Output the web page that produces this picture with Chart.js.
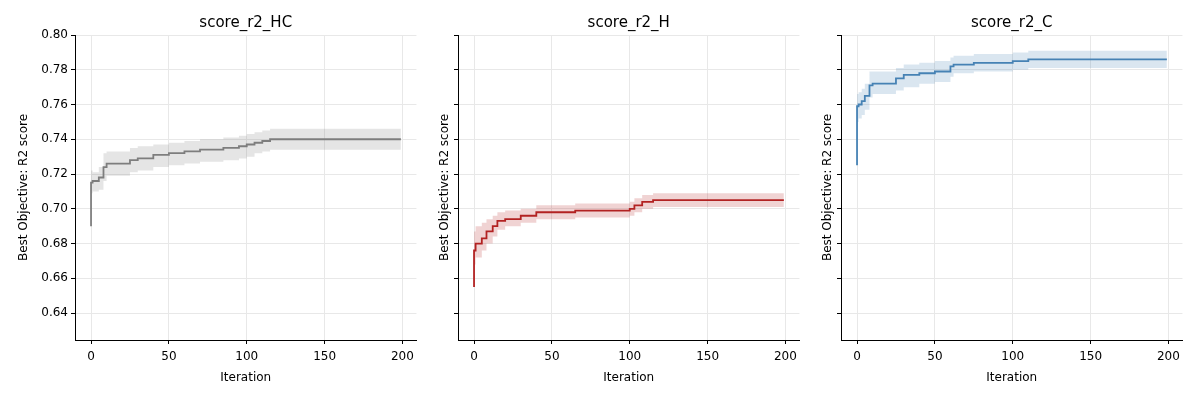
<!DOCTYPE html>
<html><head><meta charset="utf-8">
<script src="https://cdn.jsdelivr.net/npm/chart.js@4"></script>
<style>body{margin:0;width:1200px;height:400px;background:#fff;position:relative;overflow:hidden}
.c{position:absolute;top:0;width:420px;height:400px}</style></head>
<body>
<div class="c" style="left:0"><canvas id="c0"></canvas></div>
<div class="c" style="left:383px"><canvas id="c1"></canvas></div>
<div class="c" style="left:766px"><canvas id="c2"></canvas></div>
<script>
const titles = ["score_r2_HC","score_r2_H","score_r2_C"];
const colors = ["#7f7f7f","#b22222","#4682b4"];
const bandColors = ["rgba(127,127,127,0.2)","rgba(178,34,34,0.2)","rgba(70,130,180,0.2)"];
const yTicks = [0.64,0.66,0.68,0.70,0.72,0.74,0.76,0.78,0.80];
const xTicks = [0,50,100,150,200];
// breakpoints (iteration) and step values
const hcIter = [0,1,5,8,10,25,30,40,50,60,70,85,95,100,105,110,115,130,199];
const hcMean = [0.690,0.715,0.716,0.718,0.724,0.726,0.728,0.729,0.731,0.732,0.733,0.734,0.735,0.736,0.737,0.738,0.739,0.740,0.740];
const hcLo   = [0.666,0.709,0.710,0.711,0.716,0.719,0.721,0.722,0.724,0.725,0.726,0.727,0.728,0.729,0.730,0.732,0.733,0.734,0.734];
const hcHi   = [0.690,0.722,0.721,0.724,0.732,0.733,0.735,0.736,0.737,0.738,0.739,0.740,0.741,0.742,0.743,0.744,0.745,0.746,0.746];
const hIter = [0,1,5,8,12,15,20,30,40,65,100,103,108,115,120,199];
const hMean = [0.655,0.676,0.680,0.683,0.687,0.690,0.693,0.694,0.696,0.698,0.699,0.700,0.702,0.704,0.705,0.705];
const hLo   = [0.632,0.668,0.672,0.676,0.680,0.684,0.688,0.690,0.692,0.694,0.695,0.696,0.698,0.700,0.701,0.701];
const hHi   = [0.660,0.687,0.690,0.692,0.694,0.696,0.698,0.699,0.700,0.702,0.703,0.704,0.706,0.708,0.709,0.709];
const cIter = [0,1,3,5,8,10,25,30,40,50,60,62,75,100,110,125,199];
const cMean = [0.725,0.759,0.760,0.762,0.765,0.771,0.772,0.775,0.777,0.778,0.779,0.782,0.783,0.784,0.785,0.786,0.786];
const cLo   = [0.693,0.750,0.752,0.754,0.757,0.764,0.766,0.768,0.770,0.772,0.773,0.776,0.778,0.779,0.780,0.781,0.781];
const cHi   = [0.725,0.766,0.767,0.769,0.772,0.779,0.779,0.781,0.783,0.784,0.785,0.787,0.788,0.789,0.790,0.791,0.791];
const series = [[hcIter,hcMean,hcLo,hcHi],[hIter,hMean,hLo,hHi],[cIter,cMean,cLo,cHi]];
const F = "'DejaVu Sans', sans-serif";
const pts = (xs,ys)=>xs.map((x,i)=>({x,y:ys[i]}));
series.forEach((s,i)=>{
  const padL = i===0 ? 13 : 51;
  const titlePlugin={id:'t',afterDraw(ch){const c=ch.ctx,a=ch.chartArea;c.save();c.font="15px "+F;c.fillStyle='#000';c.textAlign='center';c.textBaseline='alphabetic';c.fillText(titles[i],(a.left+a.right)/2,27);c.restore();}};
  new Chart(document.getElementById('c'+i),{
    type:'line',
    data:{datasets:[
      {data:pts(s[0],s[2]),borderWidth:0,pointRadius:0,fill:false,stepped:'after'},
      {data:pts(s[0],s[3]),borderWidth:0,pointRadius:0,fill:'-1',backgroundColor:bandColors[i],stepped:'after'},
      {data:pts(s[0],s[1]),borderColor:colors[i],borderWidth:1.8,pointRadius:0,fill:false,stepped:'after'}
    ]},
    options:{responsive:true,maintainAspectRatio:false,animation:false,
      layout:{padding:{top:35,right:3,left:padL,bottom:15}},
      plugins:{legend:{display:false},tooltip:{enabled:false}},
      scales:{
        x:{type:'linear',min:-10.3,max:209,
          afterBuildTicks(ax){ax.ticks=xTicks.map(v=>({value:v}));},
          afterFit(ax){ax.height=45;},
          grid:{color:'#e8e8e8',tickColor:'#000',tickLength:4},border:{color:'#000'},
          ticks:{color:'#000',font:{family:F,size:12},maxRotation:0,padding:6},
          title:{display:true,text:'Iteration',color:'#000',font:{family:F,size:12},padding:{top:2,bottom:0}}},
        y:{min:0.6245,max:0.80,
          afterBuildTicks(ax){ax.ticks=yTicks.map(v=>({value:v}));},
          afterFit(ax){ax.width=75-padL;},
          grid:{color:'#e8e8e8',tickColor:'#000',tickLength:4},border:{color:'#000'},
          ticks:{display:true,color:i===0?'#000':'rgba(0,0,0,0)',font:{family:F,size:12},padding:3,callback:v=>v.toFixed(2)},
          title:{display:true,text:'Best Objective: R2 score',color:'#000',font:{family:F,size:12},padding:{bottom:4}}}
      }},
    plugins:[titlePlugin]
  });
});
</script></body></html>
